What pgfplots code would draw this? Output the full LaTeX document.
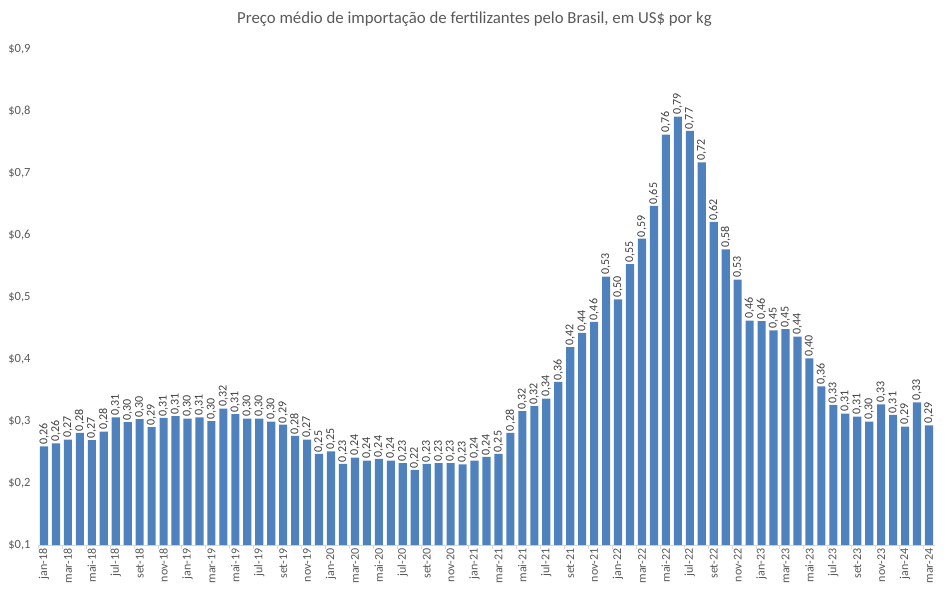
\documentclass[border=0pt]{standalone}
\usepackage{pgfplots}
\pgfplotsset{compat=1.18}
\usepackage{fontspec}
\setmainfont{Carlito}
\definecolor{barblue}{HTML}{4F81BD}
\definecolor{txtgray}{HTML}{595959}
\definecolor{lblgray}{HTML}{404040}
\definecolor{axgray}{HTML}{D9D9D9}
\begin{document}
\begin{tikzpicture}
\path[use as bounding box] (-38bp,-49bp) rectangle (911bp,545bp);
\begin{axis}[
    at={(0,0)}, anchor=south west,
    scale only axis,
    width=897bp, height=496bp,
    xmin=-0.5, xmax=74.5,
    ymin=0.1, ymax=0.9,
    axis x line=bottom, axis y line=left,
    x axis line style={-, color=axgray},
    y axis line style={draw=none},
    ytick={0.1,0.2,...,0.9},
    yticklabels={{\$0,1},{\$0,2},{\$0,3},{\$0,4},{\$0,5},{\$0,6},{\$0,7},{\$0,8},{\$0,9}},
    ytick style={draw=none},
    yticklabel style={font=\fontsize{12.5bp}{14bp}\selectfont, color=txtgray, xshift=-4bp},
    xtick={0,2,...,74},
    xticklabels={jan-18,mar-18,mai-18,jul-18,set-18,nov-18,
                 jan-19,mar-19,mai-19,jul-19,set-19,nov-19,
                 jan-20,mar-20,mai-20,jul-20,set-20,nov-20,
                 jan-21,mar-21,mai-21,jul-21,set-21,nov-21,
                 jan-22,mar-22,mai-22,jul-22,set-22,nov-22,
                 jan-23,mar-23,mai-23,jul-23,set-23,nov-23,
                 jan-24,mar-24},
    minor xtick={-0.5,1.5,...,74.5},
    major tick length=0pt,
    minor tick length=4bp,
    tick align=outside,
    minor x tick style={color=axgray},
    xticklabel style={rotate=90, anchor=east, font=\fontsize{12bp}{14bp}\selectfont, color=txtgray},
    title={Preço médio de importação de fertilizantes pelo Brasil, em US\$ por kg},
    title style={at={(0.4866,1)}, anchor=base, yshift=20bp, font=\fontsize{16.8bp}{19bp}\selectfont, color=txtgray},
    ]
\addplot[ybar, bar width=0.68, fill=barblue, draw=none,
    point meta=explicit symbolic,
    nodes near coords,
    nodes near coords style={rotate=90, anchor=west, inner sep=1.5bp, font=\fontsize{12bp}{14bp}\selectfont, color=lblgray}]
table[x=i, y=y, meta=lab] {
i y lab
0 0.259 0,26
1 0.264 0,26
2 0.270 0,27
3 0.281 0,28
4 0.269 0,27
5 0.283 0,28
6 0.306 0,31
7 0.298 0,30
8 0.303 0,30
9 0.290 0,29
10 0.305 0,31
11 0.308 0,31
12 0.304 0,30
13 0.306 0,31
14 0.300 0,30
15 0.320 0,32
16 0.311 0,31
17 0.304 0,30
18 0.304 0,30
19 0.299 0,30
20 0.294 0,29
21 0.276 0,28
22 0.270 0,27
23 0.247 0,25
24 0.251 0,25
25 0.231 0,23
26 0.241 0,24
27 0.236 0,24
28 0.239 0,24
29 0.236 0,24
30 0.232 0,23
31 0.221 0,22
32 0.231 0,23
33 0.232 0,23
34 0.232 0,23
35 0.230 0,23
36 0.236 0,24
37 0.242 0,24
38 0.247 0,25
39 0.281 0,28
40 0.316 0,32
41 0.324 0,32
42 0.336 0,34
43 0.363 0,36
44 0.419 0,42
45 0.442 0,44
46 0.460 0,46
47 0.533 0,53
48 0.496 0,50
49 0.553 0,55
50 0.594 0,59
51 0.647 0,65
52 0.762 0,76
53 0.791 0,79
54 0.768 0,77
55 0.717 0,72
56 0.621 0,62
57 0.577 0,58
58 0.528 0,53
59 0.462 0,46
60 0.461 0,46
61 0.446 0,45
62 0.448 0,45
63 0.436 0,44
64 0.401 0,40
65 0.356 0,36
66 0.326 0,33
67 0.312 0,31
68 0.307 0,31
69 0.299 0,30
70 0.327 0,33
71 0.310 0,31
72 0.291 0,29
73 0.330 0,33
74 0.293 0,29
};
\end{axis}
\end{tikzpicture}
\end{document}
